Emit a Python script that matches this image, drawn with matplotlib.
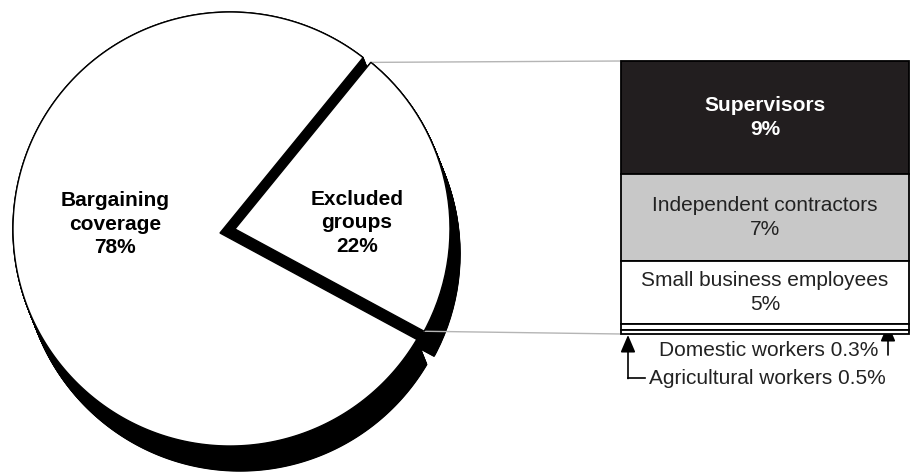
import numpy as np
import matplotlib
matplotlib.use('Agg')
import matplotlib.pyplot as plt
from matplotlib.patches import Polygon, Wedge

plt.rcParams['font.family'] = ['Liberation Sans', 'DejaVu Sans']

# data
pie_names = ['Bargaining\ncoverage', 'Excluded\ngroups']
pie_values = [78, 22]
bar_names = ['Supervisors', 'Independent contractors', 'Small business employees',
             'Agricultural workers', 'Domestic workers']
bar_values = [9, 7, 5, 0.5, 0.3]
bar_colors = ['#221e1f', '#c8c8c8', 'white', 'white', 'white']

fig = plt.figure(figsize=(9.12, 4.72), dpi=100)
ax = fig.add_axes([0, 0, 1, 1])
ax.set_xlim(0, 912)
ax.set_ylim(472, 0)
ax.axis('off')

# pie geometry (pixel space, y down)
C = np.array([230.0, 229.0]); R = 217.0      # big slice circle
V = np.array([220.0, 233.0])                 # big slice notch vertex
E = np.array([235.0, 229.0]); RE = 215.0     # excluded slice centre
mid = 11.2
span = 360.0 * pie_values[1] / sum(pie_values)
a_lo, a_hi = mid - span / 2, mid + span / 2
depth = np.array([10.0, 25.0])


def pt(center, r, a):
    a = np.radians(a)
    return center + r * np.array([np.cos(a), -np.sin(a)])


def ray_hit(a):
    d = np.array([np.cos(np.radians(a)), -np.sin(np.radians(a))])
    w = V - C
    b = np.dot(w, d)
    t = -b + np.sqrt(b * b - (np.dot(w, w) - R * R))
    p = V + t * d
    return np.degrees(np.arctan2(-(p[1] - C[1]), p[0] - C[0]))


t_hi = ray_hit(a_hi)
t_lo = ray_hit(a_lo) + 360
arc = np.array([pt(C, R, a) for a in np.linspace(t_hi, t_lo, 300)])
main_xy = np.vstack([V, arc])

# extruded sides
for t in np.linspace(0, 1, 60):
    s = t * depth
    ax.add_patch(Polygon(main_xy + s, closed=True, fc='black', ec='black', lw=1))
    ax.add_patch(Wedge(E + s, RE, -a_hi, -a_lo, fc='black', ec='black', lw=1))

# top faces
ax.add_patch(Polygon(main_xy, closed=True, fc='white', ec='black', lw=1, zorder=3))
ax.add_patch(Wedge(E, RE, -a_hi, -a_lo, fc='white', ec='black', lw=1, zorder=3))

ax.text(115, 224, f'{pie_names[0]}\n{pie_values[0]}%', ha='center', va='center',
        fontsize=15, fontweight='bold', linespacing=1.3, zorder=4)
ax.text(357, 223, f'{pie_names[1]}\n{pie_values[1]}%', ha='center', va='center',
        fontsize=15, fontweight='bold', linespacing=1.3, zorder=4)

# stacked bar
bx0, bx1, by0, by1 = 621, 909, 61, 334
tip_hi = pt(E, RE, a_hi)
tip_lo = pt(E, RE, a_lo)
ax.plot([tip_hi[0], bx0], [tip_hi[1], by0], color='#b5b5b5', lw=1, zorder=2)
ax.plot([tip_lo[0], bx0], [tip_lo[1], by1], color='#b5b5b5', lw=1, zorder=2)

bax = fig.add_axes([bx0 / 912, 1 - by1 / 472, (bx1 - bx0) / 912, (by1 - by0) / 472])
total = sum(bar_values)
bax.set_xlim(0, 1)
bax.set_ylim(total, 0)
bax.axis('off')
bottoms = np.concatenate([[0], np.cumsum(bar_values)[:-1]])
bax.bar([0.5] * len(bar_values), bar_values, bottom=bottoms, width=1,
        color=bar_colors, edgecolor='black', linewidth=1.3, clip_on=False)

for i in range(3):
    yc = bottoms[i] + bar_values[i] / 2
    txt = f'{bar_names[i]}\n{bar_values[i]}%'
    if i == 0:
        bax.text(0.5, yc, txt, ha='center', va='center', fontsize=15,
                 fontweight='bold', color='white', linespacing=1.3)
    else:
        bax.text(0.5, yc, txt, ha='center', va='center', fontsize=15,
                 color='#222222', linespacing=1.3)

# small-group callouts
head = '-|>,head_length=0.7,head_width=0.3'
ax.text(878, 350, f'{bar_names[4]} {bar_values[4]}%', ha='right', va='center',
        fontsize=15, color='#222222')
ax.annotate('', xy=(888, 324), xytext=(888, 355),
            arrowprops=dict(arrowstyle=head, color='black', lw=1.2,
                            mutation_scale=15, shrinkA=0, shrinkB=0))
ax.text(649, 378, f'{bar_names[3]} {bar_values[3]}%', ha='left', va='center',
        fontsize=15, color='#222222')
ax.plot([645, 628], [378, 378], color='black', lw=1.2)
ax.annotate('', xy=(628, 335), xytext=(628, 378.5),
            arrowprops=dict(arrowstyle=head, color='black', lw=1.2,
                            mutation_scale=15, shrinkA=0, shrinkB=0))

fig.savefig('out.png', dpi=100)
